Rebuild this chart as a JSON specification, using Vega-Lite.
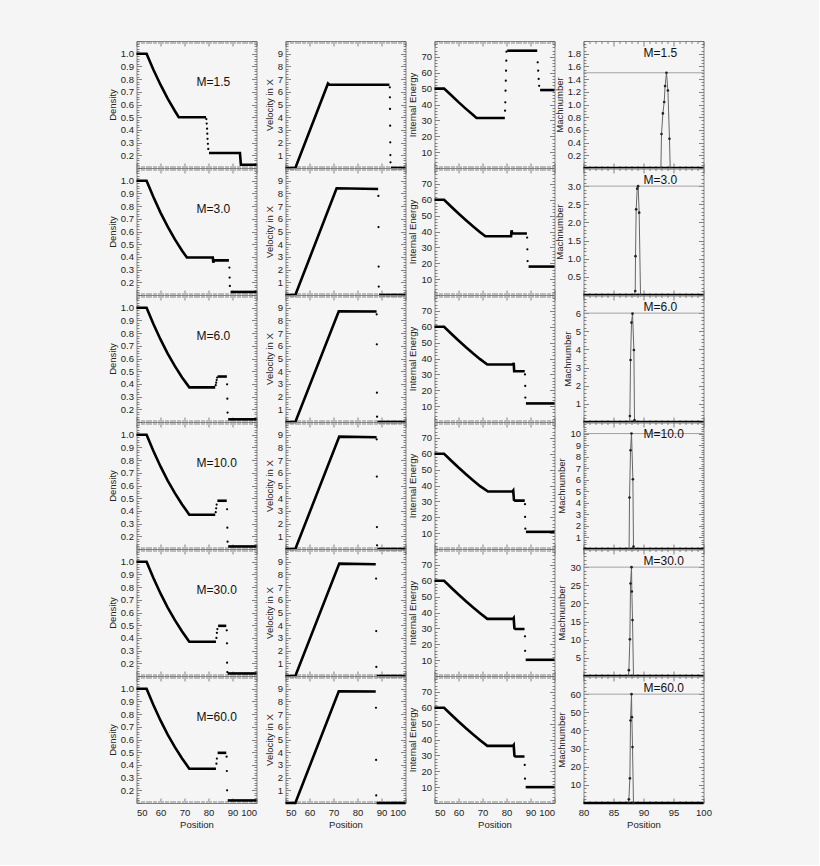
{
  "$schema": "https://vega.github.io/schema/vega-lite/v6.json",
  "background": "#f5f5f5",
  "padding": {"left": 106.5, "top": 35, "right": 106, "bottom": 36},
  "columns": 4,
  "spacing": {"row": 0, "column": 29},
  "bounds": "flush",
  "config": {
    "view": {"stroke": "#888", "strokeWidth": 1},
    "axis": {"grid": false, "domain": false, "labelOverlap": false, "labelFont": "Liberation Sans", "labelFontSize": 9.5, "labelColor": "#222",
      "titleFont": "Liberation Sans", "titleFontSize": 9.5, "titleFontWeight": "normal", "titleColor": "#222",
      "tickColor": "#666", "tickWidth": 0.8, "labelPadding": 8, "titlePadding": 3}
  },
  "datasets": {
    "d1": [
      {"k":"L","g":0,"x":50,"y":1},{"k":"L","g":0,"x":54.2,"y":1},{"k":"L","g":0,"x":57,"y":0.876},{"k":"L","g":0,"x":60,"y":0.756},{"k":"L","g":0,"x":63,"y":0.647},{"k":"L","g":0,"x":66,"y":0.549},{"k":"L","g":0,"x":67.6,"y":0.5},{"k":"L","g":0,"x":79,"y":0.5},
      {"k":"D","x":79.1,"y":0.485},{"k":"D","x":79.25,"y":0.45},{"k":"D","x":79.4,"y":0.41},{"k":"D","x":79.5,"y":0.37},{"k":"D","x":79.6,"y":0.33},{"k":"D","x":79.75,"y":0.29},{"k":"D","x":79.9,"y":0.25},
      {"k":"L","g":1,"x":80.2,"y":0.218},{"k":"L","g":1,"x":93.1,"y":0.218},{"k":"L","g":1,"x":93.5,"y":0.126},{"k":"L","g":1,"x":100,"y":0.126},
      {"k":"N","t":"M=1.5"}
    ],
    "v1": [
      {"k":"L","g":0,"x":50,"y":0},{"k":"L","g":0,"x":54.1,"y":0},{"k":"L","g":0,"x":67.7,"y":6.65},{"k":"L","g":0,"x":68.3,"y":6.55},{"k":"L","g":0,"x":93.3,"y":6.55},
      {"k":"D","x":93.45,"y":6.35},{"k":"D","x":93.5,"y":5.57},{"k":"D","x":93.55,"y":4.65},{"k":"D","x":93.6,"y":3.33},{"k":"D","x":93.65,"y":2.02},{"k":"D","x":93.7,"y":1.02},{"k":"D","x":93.75,"y":0.45},
      {"k":"L","g":1,"x":93.9,"y":0},{"k":"L","g":1,"x":100,"y":0}
    ],
    "e1": [
      {"k":"L","g":0,"x":50,"y":50},{"k":"L","g":0,"x":54,"y":50},{"k":"L","g":0,"x":57,"y":45.8},{"k":"L","g":0,"x":60,"y":41.5},{"k":"L","g":0,"x":63,"y":37.4},{"k":"L","g":0,"x":66,"y":33.5},{"k":"L","g":0,"x":67.5,"y":31.5},{"k":"L","g":0,"x":79.3,"y":31.5},
      {"k":"D","x":79.4,"y":36.1},{"k":"D","x":79.5,"y":41.4},{"k":"D","x":79.6,"y":48.7},{"k":"D","x":79.7,"y":55},{"k":"D","x":79.8,"y":61.3},{"k":"D","x":79.9,"y":67.6},{"k":"D","x":80,"y":73.3},
      {"k":"L","g":1,"x":80.3,"y":73.9},{"k":"L","g":1,"x":92.8,"y":73.9},
      {"k":"D","x":93,"y":66.6},{"k":"D","x":93.2,"y":61.3},{"k":"D","x":93.4,"y":56.1},{"k":"D","x":93.6,"y":51.8},
      {"k":"L","g":2,"x":94,"y":49.1},{"k":"L","g":2,"x":100,"y":49.1}
    ],
    "m1": [
      {"k":"N","t":"M=1.5","m":1.5},
      {"k":"L","g":0,"x":80,"y":0},{"k":"L","g":0,"x":100,"y":0},
      {"k":"T","x":92.9,"y":0},{"k":"T","x":93,"y":0.535},{"k":"T","x":93.23,"y":0.86},{"k":"T","x":93.45,"y":1.04},{"k":"T","x":93.6,"y":1.29},{"k":"T","x":93.83,"y":1.5},{"k":"T","x":94.07,"y":1.22},{"k":"T","x":94.33,"y":0.46},{"k":"T","x":94.45,"y":0}
    ],
    "d2": [
      {"k":"L","g":0,"x":50,"y":1},{"k":"L","g":0,"x":54.2,"y":1},{"k":"L","g":0,"x":57,"y":0.873},{"k":"L","g":0,"x":60,"y":0.749},{"k":"L","g":0,"x":63,"y":0.638},{"k":"L","g":0,"x":66,"y":0.538},{"k":"L","g":0,"x":69,"y":0.449},{"k":"L","g":0,"x":71,"y":0.395},{"k":"L","g":0,"x":81.8,"y":0.395},{"k":"L","g":0,"x":82,"y":0.355},{"k":"L","g":0,"x":82.4,"y":0.373},{"k":"L","g":0,"x":88.5,"y":0.373},
      {"k":"D","x":88.7,"y":0.316},{"k":"D","x":88.8,"y":0.237},{"k":"D","x":88.9,"y":0.171},
      {"k":"L","g":1,"x":89.2,"y":0.124},{"k":"L","g":1,"x":100,"y":0.124},
      {"k":"N","t":"M=3.0"}
    ],
    "v2": [
      {"k":"L","g":0,"x":50,"y":0},{"k":"L","g":0,"x":54.1,"y":0},{"k":"L","g":0,"x":71.3,"y":8.4},{"k":"L","g":0,"x":88.6,"y":8.35},
      {"k":"D","x":88.7,"y":7.8},{"k":"D","x":88.75,"y":5.35},{"k":"D","x":88.8,"y":2.24},{"k":"D","x":88.85,"y":0.66},
      {"k":"L","g":1,"x":89,"y":0},{"k":"L","g":1,"x":100,"y":0}
    ],
    "e2": [
      {"k":"L","g":0,"x":50,"y":60},{"k":"L","g":0,"x":54,"y":60},{"k":"L","g":0,"x":57,"y":55.6},{"k":"L","g":0,"x":60,"y":51.3},{"k":"L","g":0,"x":63,"y":47.3},{"k":"L","g":0,"x":66,"y":43.3},{"k":"L","g":0,"x":69,"y":39.6},{"k":"L","g":0,"x":71.2,"y":37},{"k":"L","g":0,"x":81.9,"y":37},{"k":"L","g":0,"x":82.1,"y":40.8},{"k":"L","g":0,"x":82.4,"y":38.7},{"k":"L","g":0,"x":88.5,"y":38.7},
      {"k":"D","x":88.6,"y":36.2},{"k":"D","x":88.7,"y":28.8},{"k":"D","x":88.8,"y":21.4},
      {"k":"L","g":1,"x":89.2,"y":17.9},{"k":"L","g":1,"x":100,"y":17.9}
    ],
    "m2": [
      {"k":"N","t":"M=3.0","m":3},
      {"k":"L","g":0,"x":80,"y":0},{"k":"L","g":0,"x":100,"y":0},
      {"k":"T","x":88.5,"y":0},{"k":"T","x":88.62,"y":0.11},{"k":"T","x":88.67,"y":1.07},{"k":"T","x":88.78,"y":2.36},{"k":"T","x":88.95,"y":2.93},{"k":"T","x":89.1,"y":3},{"k":"T","x":89.28,"y":2.27},{"k":"T","x":89.5,"y":0}
    ],
    "d3": [
      {"k":"L","g":0,"x":50,"y":1},{"k":"L","g":0,"x":54.2,"y":1},{"k":"L","g":0,"x":57,"y":0.873},{"k":"L","g":0,"x":60,"y":0.75},{"k":"L","g":0,"x":63,"y":0.639},{"k":"L","g":0,"x":66,"y":0.54},{"k":"L","g":0,"x":69,"y":0.451},{"k":"L","g":0,"x":72,"y":0.373},{"k":"L","g":0,"x":82.8,"y":0.373},
      {"k":"D","x":83,"y":0.39},{"k":"D","x":83.2,"y":0.41},{"k":"D","x":83.4,"y":0.43},{"k":"D","x":83.6,"y":0.45},
      {"k":"L","g":1,"x":83.8,"y":0.458},{"k":"L","g":1,"x":87.65,"y":0.458},
      {"k":"D","x":87.75,"y":0.397},{"k":"D","x":87.85,"y":0.284},{"k":"D","x":87.95,"y":0.174},
      {"k":"L","g":2,"x":88.2,"y":0.121},{"k":"L","g":2,"x":100,"y":0.121},
      {"k":"N","t":"M=6.0"}
    ],
    "v3": [
      {"k":"L","g":0,"x":50,"y":0},{"k":"L","g":0,"x":54.1,"y":0},{"k":"L","g":0,"x":72.2,"y":8.72},{"k":"L","g":0,"x":87.95,"y":8.7},
      {"k":"D","x":88,"y":8.48},{"k":"D","x":88.05,"y":6.12},{"k":"D","x":88.1,"y":2.31},{"k":"D","x":88.15,"y":0.42},
      {"k":"L","g":1,"x":88.3,"y":0},{"k":"L","g":1,"x":100,"y":0}
    ],
    "e3": [
      {"k":"L","g":0,"x":50,"y":60},{"k":"L","g":0,"x":54,"y":60},{"k":"L","g":0,"x":57,"y":55.6},{"k":"L","g":0,"x":60,"y":51.3},{"k":"L","g":0,"x":63,"y":47.2},{"k":"L","g":0,"x":66,"y":43.3},{"k":"L","g":0,"x":69,"y":39.6},{"k":"L","g":0,"x":72,"y":36.2},{"k":"L","g":0,"x":82.75,"y":36.2},{"k":"L","g":0,"x":83,"y":37.2},{"k":"L","g":0,"x":83.2,"y":32},{"k":"L","g":0,"x":87.6,"y":32},
      {"k":"D","x":87.7,"y":30},{"k":"D","x":87.8,"y":22.7},{"k":"D","x":87.85,"y":15.4},
      {"k":"L","g":1,"x":88.1,"y":11.7},{"k":"L","g":1,"x":100,"y":11.7}
    ],
    "m3": [
      {"k":"N","t":"M=6.0","m":6},
      {"k":"L","g":0,"x":80,"y":0},{"k":"L","g":0,"x":100,"y":0},
      {"k":"T","x":87.7,"y":0},{"k":"T","x":87.73,"y":0.33},{"k":"T","x":87.84,"y":3.42},{"k":"T","x":88,"y":5.48},{"k":"T","x":88.17,"y":5.97},{"k":"T","x":88.4,"y":3.97},{"k":"T","x":88.5,"y":0.1},{"k":"T","x":88.55,"y":0}
    ],
    "d4": [
      {"k":"L","g":0,"x":50,"y":1},{"k":"L","g":0,"x":54.2,"y":1},{"k":"L","g":0,"x":57,"y":0.873},{"k":"L","g":0,"x":60,"y":0.75},{"k":"L","g":0,"x":63,"y":0.639},{"k":"L","g":0,"x":66,"y":0.54},{"k":"L","g":0,"x":69,"y":0.451},{"k":"L","g":0,"x":72,"y":0.37},{"k":"L","g":0,"x":82.8,"y":0.37},
      {"k":"D","x":83,"y":0.39},{"k":"D","x":83.2,"y":0.42},{"k":"D","x":83.4,"y":0.45},
      {"k":"L","g":1,"x":83.7,"y":0.48},{"k":"L","g":1,"x":87.6,"y":0.48},
      {"k":"D","x":87.75,"y":0.413},{"k":"D","x":87.85,"y":0.268},{"k":"D","x":87.95,"y":0.158},
      {"k":"L","g":2,"x":88.2,"y":0.12},{"k":"L","g":2,"x":100,"y":0.12},
      {"k":"N","t":"M=10.0"}
    ],
    "v4": [
      {"k":"L","g":0,"x":50,"y":0},{"k":"L","g":0,"x":54.1,"y":0},{"k":"L","g":0,"x":72.4,"y":8.85},{"k":"L","g":0,"x":87.95,"y":8.8},
      {"k":"D","x":88,"y":8.64},{"k":"D","x":88.05,"y":5.7},{"k":"D","x":88.1,"y":1.73},{"k":"D","x":88.15,"y":0.29},
      {"k":"L","g":1,"x":88.3,"y":0},{"k":"L","g":1,"x":100,"y":0}
    ],
    "e4": [
      {"k":"L","g":0,"x":50,"y":60},{"k":"L","g":0,"x":54,"y":60},{"k":"L","g":0,"x":57,"y":55.6},{"k":"L","g":0,"x":60,"y":51.3},{"k":"L","g":0,"x":63,"y":47.2},{"k":"L","g":0,"x":66,"y":43.3},{"k":"L","g":0,"x":69,"y":39.6},{"k":"L","g":0,"x":72.3,"y":36.2},{"k":"L","g":0,"x":82.5,"y":36.2},{"k":"L","g":0,"x":82.8,"y":36.8},{"k":"L","g":0,"x":83.1,"y":31},{"k":"L","g":0,"x":83.6,"y":30.5},{"k":"L","g":0,"x":87.6,"y":30.5},
      {"k":"D","x":87.7,"y":28.2},{"k":"D","x":87.75,"y":20.2},{"k":"D","x":87.85,"y":12.8},
      {"k":"L","g":1,"x":88.1,"y":10.8},{"k":"L","g":1,"x":100,"y":10.8}
    ],
    "m4": [
      {"k":"N","t":"M=10.0","m":10},
      {"k":"L","g":0,"x":80,"y":0},{"k":"L","g":0,"x":100,"y":0},
      {"k":"T","x":87.6,"y":0},{"k":"T","x":87.67,"y":4.45},{"k":"T","x":87.84,"y":8.55},{"k":"T","x":88,"y":10},{"k":"T","x":88.23,"y":6.04},{"k":"T","x":88.33,"y":0.2},{"k":"T","x":88.4,"y":0}
    ],
    "d5": [
      {"k":"L","g":0,"x":50,"y":1},{"k":"L","g":0,"x":54.2,"y":1},{"k":"L","g":0,"x":57,"y":0.873},{"k":"L","g":0,"x":60,"y":0.75},{"k":"L","g":0,"x":63,"y":0.639},{"k":"L","g":0,"x":66,"y":0.54},{"k":"L","g":0,"x":69,"y":0.451},{"k":"L","g":0,"x":72,"y":0.37},{"k":"L","g":0,"x":83.1,"y":0.37},
      {"k":"D","x":83.3,"y":0.4},{"k":"D","x":83.5,"y":0.44},{"k":"D","x":83.7,"y":0.47},
      {"k":"L","g":1,"x":84,"y":0.495},{"k":"L","g":1,"x":87.4,"y":0.495},
      {"k":"D","x":87.6,"y":0.46},{"k":"D","x":87.7,"y":0.357},{"k":"D","x":87.75,"y":0.205},{"k":"D","x":87.85,"y":0.131},
      {"k":"L","g":2,"x":88,"y":0.12},{"k":"L","g":2,"x":100,"y":0.12},
      {"k":"N","t":"M=30.0"}
    ],
    "v5": [
      {"k":"L","g":0,"x":50,"y":0},{"k":"L","g":0,"x":54.1,"y":0},{"k":"L","g":0,"x":72.4,"y":8.85},{"k":"L","g":0,"x":87.6,"y":8.8},
      {"k":"D","x":87.75,"y":7.67},{"k":"D","x":87.8,"y":3.54},{"k":"D","x":87.85,"y":0.71},
      {"k":"L","g":1,"x":88,"y":0},{"k":"L","g":1,"x":100,"y":0}
    ],
    "e5": [
      {"k":"L","g":0,"x":50,"y":60},{"k":"L","g":0,"x":54,"y":60},{"k":"L","g":0,"x":57,"y":55.6},{"k":"L","g":0,"x":60,"y":51.3},{"k":"L","g":0,"x":63,"y":47.2},{"k":"L","g":0,"x":66,"y":43.3},{"k":"L","g":0,"x":69,"y":39.6},{"k":"L","g":0,"x":72,"y":36},{"k":"L","g":0,"x":82.75,"y":36},{"k":"L","g":0,"x":83,"y":36.5},{"k":"L","g":0,"x":83.3,"y":30},{"k":"L","g":0,"x":83.7,"y":29.6},{"k":"L","g":0,"x":87.5,"y":29.6},
      {"k":"D","x":87.7,"y":25},{"k":"D","x":87.75,"y":15.9},
      {"k":"L","g":1,"x":88,"y":10.2},{"k":"L","g":1,"x":100,"y":10.2}
    ],
    "m5": [
      {"k":"N","t":"M=30.0","m":30},
      {"k":"L","g":0,"x":80,"y":0},{"k":"L","g":0,"x":100,"y":0},
      {"k":"T","x":87.5,"y":0},{"k":"T","x":87.56,"y":1.6},{"k":"T","x":87.73,"y":10.1},{"k":"T","x":87.84,"y":25.5},{"k":"T","x":88,"y":30},{"k":"T","x":88.06,"y":23.3},{"k":"T","x":88.17,"y":15.4},{"k":"T","x":88.33,"y":0}
    ],
    "d6": [
      {"k":"L","g":0,"x":50,"y":1},{"k":"L","g":0,"x":54.2,"y":1},{"k":"L","g":0,"x":57,"y":0.873},{"k":"L","g":0,"x":60,"y":0.75},{"k":"L","g":0,"x":63,"y":0.639},{"k":"L","g":0,"x":66,"y":0.54},{"k":"L","g":0,"x":69,"y":0.451},{"k":"L","g":0,"x":72,"y":0.37},{"k":"L","g":0,"x":83.1,"y":0.37},
      {"k":"D","x":83.3,"y":0.41},{"k":"D","x":83.5,"y":0.45},
      {"k":"L","g":1,"x":83.8,"y":0.495},{"k":"L","g":1,"x":87.4,"y":0.495},
      {"k":"D","x":87.55,"y":0.465},{"k":"D","x":87.65,"y":0.352},{"k":"D","x":87.75,"y":0.2},
      {"k":"L","g":2,"x":88,"y":0.12},{"k":"L","g":2,"x":100,"y":0.12},
      {"k":"N","t":"M=60.0"}
    ],
    "v6": [
      {"k":"L","g":0,"x":50,"y":0},{"k":"L","g":0,"x":54.1,"y":0},{"k":"L","g":0,"x":72.2,"y":8.8},{"k":"L","g":0,"x":87.6,"y":8.78},
      {"k":"D","x":87.7,"y":7.5},{"k":"D","x":87.75,"y":3.39},{"k":"D","x":87.8,"y":0.6},
      {"k":"L","g":1,"x":88,"y":0},{"k":"L","g":1,"x":100,"y":0}
    ],
    "e6": [
      {"k":"L","g":0,"x":50,"y":60},{"k":"L","g":0,"x":54,"y":60},{"k":"L","g":0,"x":57,"y":55.6},{"k":"L","g":0,"x":60,"y":51.3},{"k":"L","g":0,"x":63,"y":47.2},{"k":"L","g":0,"x":66,"y":43.3},{"k":"L","g":0,"x":69,"y":39.6},{"k":"L","g":0,"x":72,"y":36},{"k":"L","g":0,"x":82.75,"y":36},{"k":"L","g":0,"x":83,"y":36.5},{"k":"L","g":0,"x":83.3,"y":29.8},{"k":"L","g":0,"x":83.7,"y":29.3},{"k":"L","g":0,"x":87.5,"y":29.3},
      {"k":"D","x":87.6,"y":24},{"k":"D","x":87.7,"y":15.3},
      {"k":"L","g":1,"x":88,"y":10},{"k":"L","g":1,"x":100,"y":10}
    ],
    "m6": [
      {"k":"N","t":"M=60.0","m":60},
      {"k":"L","g":0,"x":80,"y":0},{"k":"L","g":0,"x":100,"y":0},
      {"k":"T","x":87.5,"y":0},{"k":"T","x":87.56,"y":2},{"k":"T","x":87.73,"y":13.6},{"k":"T","x":87.84,"y":45.5},{"k":"T","x":88,"y":60},{"k":"T","x":88.06,"y":47.3},{"k":"T","x":88.17,"y":30.8},{"k":"T","x":88.33,"y":0}
    ]
  },
  "concat": [
    {"data": {"name": "d1"}, "width": 120, "height": 127, "resolve": {"axis": {"x": "independent", "y": "independent"}}, "layer": [
      {"transform": [{"filter": "datum.k == 'L'"}], "mark": {"type": "line", "color": "#000", "strokeWidth": 2.6}, "encoding": {
        "x": {"field": "x", "type": "quantitative", "scale": {"domain": [50, 100], "nice": false, "zero": false}, "axis": {"orient": "bottom", "tickCount": 50, "tickSize": {"condition": {"test": "datum.value % 10 == 0", "value": -5}, "value": -2.5}, "labels": false, "title": null}},
        "y": {"field": "y", "type": "quantitative", "scale": {"domain": [0.1, 1.1], "nice": false, "zero": false}, "axis": {"orient": "left", "tickCount": 50, "tickSize": {"condition": {"test": "abs(datum.value*10-round(datum.value*10)) < 0.001", "value": -5}, "value": -2.5}, "labelExpr": "abs(datum.value*10-round(datum.value*10)) < 0.001 && datum.value > 0.15 && datum.value < 1.05 ? format(datum.value, '.1f') : ''", "title": "Density"}},
        "detail": {"field": "g", "type": "nominal"}}},
      {"transform": [{"filter": "datum.k == 'D'"}], "mark": {"type": "circle", "color": "#000", "size": 5, "opacity": 1}, "encoding": {
        "x": {"field": "x", "type": "quantitative", "axis": {"orient": "top", "tickCount": 50, "tickSize": {"condition": {"test": "datum.value % 10 == 0", "value": -5}, "value": -2.5}, "labels": false, "title": null}},
        "y": {"field": "y", "type": "quantitative", "axis": {"orient": "right", "tickCount": 50, "tickSize": {"condition": {"test": "abs(datum.value*10-round(datum.value*10)) < 0.001", "value": -5}, "value": -2.5}, "labels": false, "title": null}}}},
      {"transform": [{"filter": "datum.k == 'N'"}], "mark": {"type": "text", "align": "left", "baseline": "middle", "font": "Liberation Sans", "fontSize": 12, "color": "#111"}, "encoding": {
        "x": {"datum": 75, "type": "quantitative", "axis": null}, "y": {"datum": 0.78, "type": "quantitative", "axis": null}, "text": {"field": "t"}}}
    ]},
    {"data": {"name": "v1"}, "width": 120, "height": 127, "resolve": {"axis": {"x": "independent", "y": "independent"}}, "layer": [
      {"transform": [{"filter": "datum.k == 'L'"}], "mark": {"type": "line", "color": "#000", "strokeWidth": 2.6}, "encoding": {
        "x": {"field": "x", "type": "quantitative", "scale": {"domain": [50, 100], "nice": false, "zero": false}, "axis": {"orient": "bottom", "tickCount": 50, "tickSize": {"condition": {"test": "datum.value % 10 == 0", "value": -5}, "value": -2.5}, "labels": false, "title": null}},
        "y": {"field": "y", "type": "quantitative", "scale": {"domain": [0, 10], "nice": false, "zero": false}, "axis": {"orient": "left", "tickCount": 50, "tickSize": {"condition": {"test": "abs(datum.value-round(datum.value)) < 0.001", "value": -5}, "value": -2.5}, "labelExpr": "abs(datum.value-round(datum.value)) < 0.001 && datum.value > 0.5 && datum.value < 9.5 ? format(datum.value, '.0f') : ''", "title": "Velocity in X"}},
        "detail": {"field": "g", "type": "nominal"}}},
      {"transform": [{"filter": "datum.k == 'D'"}], "mark": {"type": "circle", "color": "#000", "size": 5, "opacity": 1}, "encoding": {
        "x": {"field": "x", "type": "quantitative", "axis": {"orient": "top", "tickCount": 50, "tickSize": {"condition": {"test": "datum.value % 10 == 0", "value": -5}, "value": -2.5}, "labels": false, "title": null}},
        "y": {"field": "y", "type": "quantitative", "axis": {"orient": "right", "tickCount": 50, "tickSize": {"condition": {"test": "abs(datum.value-round(datum.value)) < 0.001", "value": -5}, "value": -2.5}, "labels": false, "title": null}}}}
    ]},
    {"data": {"name": "e1"}, "width": 120, "height": 127, "resolve": {"axis": {"x": "independent", "y": "independent"}}, "layer": [
      {"transform": [{"filter": "datum.k == 'L'"}], "mark": {"type": "line", "color": "#000", "strokeWidth": 2.6}, "encoding": {
        "x": {"field": "x", "type": "quantitative", "scale": {"domain": [50, 100], "nice": false, "zero": false}, "axis": {"orient": "bottom", "tickCount": 50, "tickSize": {"condition": {"test": "datum.value % 10 == 0", "value": -5}, "value": -2.5}, "labels": false, "title": null}},
        "y": {"field": "y", "type": "quantitative", "scale": {"domain": [0, 80], "nice": false, "zero": false}, "axis": {"orient": "left", "tickCount": 40, "tickSize": {"condition": {"test": "datum.value % 10 == 0", "value": -5}, "value": -2.5}, "labelExpr": "datum.value % 10 == 0 && datum.value > 5 && datum.value < 75 ? format(datum.value, '.0f') : ''", "title": "Internal Energy"}},
        "detail": {"field": "g", "type": "nominal"}}},
      {"transform": [{"filter": "datum.k == 'D'"}], "mark": {"type": "circle", "color": "#000", "size": 5, "opacity": 1}, "encoding": {
        "x": {"field": "x", "type": "quantitative", "axis": {"orient": "top", "tickCount": 50, "tickSize": {"condition": {"test": "datum.value % 10 == 0", "value": -5}, "value": -2.5}, "labels": false, "title": null}},
        "y": {"field": "y", "type": "quantitative", "axis": {"orient": "right", "tickCount": 40, "tickSize": {"condition": {"test": "datum.value % 10 == 0", "value": -5}, "value": -2.5}, "labels": false, "title": null}}}}
    ]},
    {"data": {"name": "m1"}, "width": 120, "height": 127, "resolve": {"axis": {"x": "independent", "y": "independent"}}, "layer": [
      {"transform": [{"filter": "datum.k == 'N'"}], "mark": {"type": "rule", "color": "#999", "strokeWidth": 0.9}, "encoding": {
        "y": {"field": "m", "type": "quantitative", "scale": {"domain": [0, 2], "nice": false, "zero": false}, "axis": null}}},
      {"transform": [{"filter": "datum.k == 'L'"}], "mark": {"type": "line", "color": "#000", "strokeWidth": 2.6}, "encoding": {
        "x": {"field": "x", "type": "quantitative", "scale": {"domain": [80, 100], "nice": false, "zero": false}, "axis": {"orient": "bottom", "tickCount": 20, "tickSize": {"condition": {"test": "datum.value % 5 == 0", "value": -5}, "value": -2.5}, "labels": false, "title": null}},
        "y": {"field": "y", "type": "quantitative", "scale": {"domain": [0, 2], "nice": false, "zero": false}, "axis": {"orient": "left", "tickCount": 40, "tickSize": {"condition": {"test": "abs(datum.value*5-round(datum.value*5)) < 0.001", "value": -5}, "value": -2.5}, "labelExpr": "abs(datum.value*5-round(datum.value*5)) < 0.001 && datum.value > 0.1 && datum.value < 1.9 ? format(datum.value, '.1f') : ''", "title": "Machnumber"}}}},
      {"transform": [{"filter": "datum.k == 'T'"}], "mark": {"type": "line", "color": "#666", "strokeWidth": 1}, "encoding": {
        "x": {"field": "x", "type": "quantitative", "axis": {"orient": "top", "tickCount": 20, "tickSize": {"condition": {"test": "datum.value % 5 == 0", "value": -5}, "value": -2.5}, "labels": false, "title": null}},
        "y": {"field": "y", "type": "quantitative", "axis": {"orient": "right", "tickCount": 40, "tickSize": {"condition": {"test": "abs(datum.value*5-round(datum.value*5)) < 0.001", "value": -5}, "value": -2.5}, "labels": false, "title": null}}}},
      {"transform": [{"filter": "datum.k == 'T'"}], "mark": {"type": "circle", "color": "#222", "size": 7, "opacity": 1}, "encoding": {
        "x": {"field": "x", "type": "quantitative", "axis": null}, "y": {"field": "y", "type": "quantitative", "axis": null}}},
      {"transform": [{"filter": "datum.k == 'N'"}], "mark": {"type": "text", "align": "left", "baseline": "middle", "font": "Liberation Sans", "fontSize": 12, "color": "#111"}, "encoding": {
        "x": {"datum": 90, "type": "quantitative", "axis": null}, "y": {"datum": 1.81, "type": "quantitative", "axis": null}, "text": {"field": "t"}}}
    ]},

    {"data": {"name": "d2"}, "width": 120, "height": 127, "resolve": {"axis": {"x": "independent", "y": "independent"}}, "layer": [
      {"transform": [{"filter": "datum.k == 'L'"}], "mark": {"type": "line", "color": "#000", "strokeWidth": 2.6}, "encoding": {
        "x": {"field": "x", "type": "quantitative", "scale": {"domain": [50, 100], "nice": false, "zero": false}, "axis": {"orient": "bottom", "tickCount": 50, "tickSize": {"condition": {"test": "datum.value % 10 == 0", "value": -5}, "value": -2.5}, "labels": false, "title": null}},
        "y": {"field": "y", "type": "quantitative", "scale": {"domain": [0.1, 1.1], "nice": false, "zero": false}, "axis": {"orient": "left", "tickCount": 50, "tickSize": {"condition": {"test": "abs(datum.value*10-round(datum.value*10)) < 0.001", "value": -5}, "value": -2.5}, "labelExpr": "abs(datum.value*10-round(datum.value*10)) < 0.001 && datum.value > 0.15 && datum.value < 1.05 ? format(datum.value, '.1f') : ''", "title": "Density"}},
        "detail": {"field": "g", "type": "nominal"}}},
      {"transform": [{"filter": "datum.k == 'D'"}], "mark": {"type": "circle", "color": "#000", "size": 5, "opacity": 1}, "encoding": {
        "x": {"field": "x", "type": "quantitative", "axis": {"orient": "top", "tickCount": 50, "tickSize": {"condition": {"test": "datum.value % 10 == 0", "value": -5}, "value": -2.5}, "labels": false, "title": null}},
        "y": {"field": "y", "type": "quantitative", "axis": {"orient": "right", "tickCount": 50, "tickSize": {"condition": {"test": "abs(datum.value*10-round(datum.value*10)) < 0.001", "value": -5}, "value": -2.5}, "labels": false, "title": null}}}},
      {"transform": [{"filter": "datum.k == 'N'"}], "mark": {"type": "text", "align": "left", "baseline": "middle", "font": "Liberation Sans", "fontSize": 12, "color": "#111"}, "encoding": {
        "x": {"datum": 75, "type": "quantitative", "axis": null}, "y": {"datum": 0.78, "type": "quantitative", "axis": null}, "text": {"field": "t"}}}
    ]},
    {"data": {"name": "v2"}, "width": 120, "height": 127, "resolve": {"axis": {"x": "independent", "y": "independent"}}, "layer": [
      {"transform": [{"filter": "datum.k == 'L'"}], "mark": {"type": "line", "color": "#000", "strokeWidth": 2.6}, "encoding": {
        "x": {"field": "x", "type": "quantitative", "scale": {"domain": [50, 100], "nice": false, "zero": false}, "axis": {"orient": "bottom", "tickCount": 50, "tickSize": {"condition": {"test": "datum.value % 10 == 0", "value": -5}, "value": -2.5}, "labels": false, "title": null}},
        "y": {"field": "y", "type": "quantitative", "scale": {"domain": [0, 10], "nice": false, "zero": false}, "axis": {"orient": "left", "tickCount": 50, "tickSize": {"condition": {"test": "abs(datum.value-round(datum.value)) < 0.001", "value": -5}, "value": -2.5}, "labelExpr": "abs(datum.value-round(datum.value)) < 0.001 && datum.value > 0.5 && datum.value < 9.5 ? format(datum.value, '.0f') : ''", "title": "Velocity in X"}},
        "detail": {"field": "g", "type": "nominal"}}},
      {"transform": [{"filter": "datum.k == 'D'"}], "mark": {"type": "circle", "color": "#000", "size": 5, "opacity": 1}, "encoding": {
        "x": {"field": "x", "type": "quantitative", "axis": {"orient": "top", "tickCount": 50, "tickSize": {"condition": {"test": "datum.value % 10 == 0", "value": -5}, "value": -2.5}, "labels": false, "title": null}},
        "y": {"field": "y", "type": "quantitative", "axis": {"orient": "right", "tickCount": 50, "tickSize": {"condition": {"test": "abs(datum.value-round(datum.value)) < 0.001", "value": -5}, "value": -2.5}, "labels": false, "title": null}}}}
    ]},
    {"data": {"name": "e2"}, "width": 120, "height": 127, "resolve": {"axis": {"x": "independent", "y": "independent"}}, "layer": [
      {"transform": [{"filter": "datum.k == 'L'"}], "mark": {"type": "line", "color": "#000", "strokeWidth": 2.6}, "encoding": {
        "x": {"field": "x", "type": "quantitative", "scale": {"domain": [50, 100], "nice": false, "zero": false}, "axis": {"orient": "bottom", "tickCount": 50, "tickSize": {"condition": {"test": "datum.value % 10 == 0", "value": -5}, "value": -2.5}, "labels": false, "title": null}},
        "y": {"field": "y", "type": "quantitative", "scale": {"domain": [0, 80], "nice": false, "zero": false}, "axis": {"orient": "left", "tickCount": 40, "tickSize": {"condition": {"test": "datum.value % 10 == 0", "value": -5}, "value": -2.5}, "labelExpr": "datum.value % 10 == 0 && datum.value > 5 && datum.value < 75 ? format(datum.value, '.0f') : ''", "title": "Internal Energy"}},
        "detail": {"field": "g", "type": "nominal"}}},
      {"transform": [{"filter": "datum.k == 'D'"}], "mark": {"type": "circle", "color": "#000", "size": 5, "opacity": 1}, "encoding": {
        "x": {"field": "x", "type": "quantitative", "axis": {"orient": "top", "tickCount": 50, "tickSize": {"condition": {"test": "datum.value % 10 == 0", "value": -5}, "value": -2.5}, "labels": false, "title": null}},
        "y": {"field": "y", "type": "quantitative", "axis": {"orient": "right", "tickCount": 40, "tickSize": {"condition": {"test": "datum.value % 10 == 0", "value": -5}, "value": -2.5}, "labels": false, "title": null}}}}
    ]},
    {"data": {"name": "m2"}, "width": 120, "height": 127, "resolve": {"axis": {"x": "independent", "y": "independent"}}, "layer": [
      {"transform": [{"filter": "datum.k == 'N'"}], "mark": {"type": "rule", "color": "#999", "strokeWidth": 0.9}, "encoding": {
        "y": {"field": "m", "type": "quantitative", "scale": {"domain": [0, 3.5], "nice": false, "zero": false}, "axis": null}}},
      {"transform": [{"filter": "datum.k == 'L'"}], "mark": {"type": "line", "color": "#000", "strokeWidth": 2.6}, "encoding": {
        "x": {"field": "x", "type": "quantitative", "scale": {"domain": [80, 100], "nice": false, "zero": false}, "axis": {"orient": "bottom", "tickCount": 20, "tickSize": {"condition": {"test": "datum.value % 5 == 0", "value": -5}, "value": -2.5}, "labels": false, "title": null}},
        "y": {"field": "y", "type": "quantitative", "scale": {"domain": [0, 3.5], "nice": false, "zero": false}, "axis": {"orient": "left", "tickCount": 35, "tickSize": {"condition": {"test": "abs(datum.value*2-round(datum.value*2)) < 0.001", "value": -5}, "value": -2.5}, "labelExpr": "abs(datum.value*2-round(datum.value*2)) < 0.001 && datum.value > 0.25 && datum.value < 3.25 ? format(datum.value, '.1f') : ''", "title": "Machnumber"}}}},
      {"transform": [{"filter": "datum.k == 'T'"}], "mark": {"type": "line", "color": "#666", "strokeWidth": 1}, "encoding": {
        "x": {"field": "x", "type": "quantitative", "axis": {"orient": "top", "tickCount": 20, "tickSize": {"condition": {"test": "datum.value % 5 == 0", "value": -5}, "value": -2.5}, "labels": false, "title": null}},
        "y": {"field": "y", "type": "quantitative", "axis": {"orient": "right", "tickCount": 35, "tickSize": {"condition": {"test": "abs(datum.value*2-round(datum.value*2)) < 0.001", "value": -5}, "value": -2.5}, "labels": false, "title": null}}}},
      {"transform": [{"filter": "datum.k == 'T'"}], "mark": {"type": "circle", "color": "#222", "size": 7, "opacity": 1}, "encoding": {
        "x": {"field": "x", "type": "quantitative", "axis": null}, "y": {"field": "y", "type": "quantitative", "axis": null}}},
      {"transform": [{"filter": "datum.k == 'N'"}], "mark": {"type": "text", "align": "left", "baseline": "middle", "font": "Liberation Sans", "fontSize": 12, "color": "#111"}, "encoding": {
        "x": {"datum": 90, "type": "quantitative", "axis": null}, "y": {"datum": 3.17, "type": "quantitative", "axis": null}, "text": {"field": "t"}}}
    ]},

    {"data": {"name": "d3"}, "width": 120, "height": 127, "resolve": {"axis": {"x": "independent", "y": "independent"}}, "layer": [
      {"transform": [{"filter": "datum.k == 'L'"}], "mark": {"type": "line", "color": "#000", "strokeWidth": 2.6}, "encoding": {
        "x": {"field": "x", "type": "quantitative", "scale": {"domain": [50, 100], "nice": false, "zero": false}, "axis": {"orient": "bottom", "tickCount": 50, "tickSize": {"condition": {"test": "datum.value % 10 == 0", "value": -5}, "value": -2.5}, "labels": false, "title": null}},
        "y": {"field": "y", "type": "quantitative", "scale": {"domain": [0.1, 1.1], "nice": false, "zero": false}, "axis": {"orient": "left", "tickCount": 50, "tickSize": {"condition": {"test": "abs(datum.value*10-round(datum.value*10)) < 0.001", "value": -5}, "value": -2.5}, "labelExpr": "abs(datum.value*10-round(datum.value*10)) < 0.001 && datum.value > 0.15 && datum.value < 1.05 ? format(datum.value, '.1f') : ''", "title": "Density"}},
        "detail": {"field": "g", "type": "nominal"}}},
      {"transform": [{"filter": "datum.k == 'D'"}], "mark": {"type": "circle", "color": "#000", "size": 5, "opacity": 1}, "encoding": {
        "x": {"field": "x", "type": "quantitative", "axis": {"orient": "top", "tickCount": 50, "tickSize": {"condition": {"test": "datum.value % 10 == 0", "value": -5}, "value": -2.5}, "labels": false, "title": null}},
        "y": {"field": "y", "type": "quantitative", "axis": {"orient": "right", "tickCount": 50, "tickSize": {"condition": {"test": "abs(datum.value*10-round(datum.value*10)) < 0.001", "value": -5}, "value": -2.5}, "labels": false, "title": null}}}},
      {"transform": [{"filter": "datum.k == 'N'"}], "mark": {"type": "text", "align": "left", "baseline": "middle", "font": "Liberation Sans", "fontSize": 12, "color": "#111"}, "encoding": {
        "x": {"datum": 75, "type": "quantitative", "axis": null}, "y": {"datum": 0.78, "type": "quantitative", "axis": null}, "text": {"field": "t"}}}
    ]},
    {"data": {"name": "v3"}, "width": 120, "height": 127, "resolve": {"axis": {"x": "independent", "y": "independent"}}, "layer": [
      {"transform": [{"filter": "datum.k == 'L'"}], "mark": {"type": "line", "color": "#000", "strokeWidth": 2.6}, "encoding": {
        "x": {"field": "x", "type": "quantitative", "scale": {"domain": [50, 100], "nice": false, "zero": false}, "axis": {"orient": "bottom", "tickCount": 50, "tickSize": {"condition": {"test": "datum.value % 10 == 0", "value": -5}, "value": -2.5}, "labels": false, "title": null}},
        "y": {"field": "y", "type": "quantitative", "scale": {"domain": [0, 10], "nice": false, "zero": false}, "axis": {"orient": "left", "tickCount": 50, "tickSize": {"condition": {"test": "abs(datum.value-round(datum.value)) < 0.001", "value": -5}, "value": -2.5}, "labelExpr": "abs(datum.value-round(datum.value)) < 0.001 && datum.value > 0.5 && datum.value < 9.5 ? format(datum.value, '.0f') : ''", "title": "Velocity in X"}},
        "detail": {"field": "g", "type": "nominal"}}},
      {"transform": [{"filter": "datum.k == 'D'"}], "mark": {"type": "circle", "color": "#000", "size": 5, "opacity": 1}, "encoding": {
        "x": {"field": "x", "type": "quantitative", "axis": {"orient": "top", "tickCount": 50, "tickSize": {"condition": {"test": "datum.value % 10 == 0", "value": -5}, "value": -2.5}, "labels": false, "title": null}},
        "y": {"field": "y", "type": "quantitative", "axis": {"orient": "right", "tickCount": 50, "tickSize": {"condition": {"test": "abs(datum.value-round(datum.value)) < 0.001", "value": -5}, "value": -2.5}, "labels": false, "title": null}}}}
    ]},
    {"data": {"name": "e3"}, "width": 120, "height": 127, "resolve": {"axis": {"x": "independent", "y": "independent"}}, "layer": [
      {"transform": [{"filter": "datum.k == 'L'"}], "mark": {"type": "line", "color": "#000", "strokeWidth": 2.6}, "encoding": {
        "x": {"field": "x", "type": "quantitative", "scale": {"domain": [50, 100], "nice": false, "zero": false}, "axis": {"orient": "bottom", "tickCount": 50, "tickSize": {"condition": {"test": "datum.value % 10 == 0", "value": -5}, "value": -2.5}, "labels": false, "title": null}},
        "y": {"field": "y", "type": "quantitative", "scale": {"domain": [0, 80], "nice": false, "zero": false}, "axis": {"orient": "left", "tickCount": 40, "tickSize": {"condition": {"test": "datum.value % 10 == 0", "value": -5}, "value": -2.5}, "labelExpr": "datum.value % 10 == 0 && datum.value > 5 && datum.value < 75 ? format(datum.value, '.0f') : ''", "title": "Internal Energy"}},
        "detail": {"field": "g", "type": "nominal"}}},
      {"transform": [{"filter": "datum.k == 'D'"}], "mark": {"type": "circle", "color": "#000", "size": 5, "opacity": 1}, "encoding": {
        "x": {"field": "x", "type": "quantitative", "axis": {"orient": "top", "tickCount": 50, "tickSize": {"condition": {"test": "datum.value % 10 == 0", "value": -5}, "value": -2.5}, "labels": false, "title": null}},
        "y": {"field": "y", "type": "quantitative", "axis": {"orient": "right", "tickCount": 40, "tickSize": {"condition": {"test": "datum.value % 10 == 0", "value": -5}, "value": -2.5}, "labels": false, "title": null}}}}
    ]},
    {"data": {"name": "m3"}, "width": 120, "height": 127, "resolve": {"axis": {"x": "independent", "y": "independent"}}, "layer": [
      {"transform": [{"filter": "datum.k == 'N'"}], "mark": {"type": "rule", "color": "#999", "strokeWidth": 0.9}, "encoding": {
        "y": {"field": "m", "type": "quantitative", "scale": {"domain": [0, 7], "nice": false, "zero": false}, "axis": null}}},
      {"transform": [{"filter": "datum.k == 'L'"}], "mark": {"type": "line", "color": "#000", "strokeWidth": 2.6}, "encoding": {
        "x": {"field": "x", "type": "quantitative", "scale": {"domain": [80, 100], "nice": false, "zero": false}, "axis": {"orient": "bottom", "tickCount": 20, "tickSize": {"condition": {"test": "datum.value % 5 == 0", "value": -5}, "value": -2.5}, "labels": false, "title": null}},
        "y": {"field": "y", "type": "quantitative", "scale": {"domain": [0, 7], "nice": false, "zero": false}, "axis": {"orient": "left", "tickCount": 35, "tickSize": {"condition": {"test": "abs(datum.value-round(datum.value)) < 0.001", "value": -5}, "value": -2.5}, "labelExpr": "abs(datum.value-round(datum.value)) < 0.001 && datum.value > 0.5 && datum.value < 6.5 ? format(datum.value, '.0f') : ''", "title": "Machnumber"}}}},
      {"transform": [{"filter": "datum.k == 'T'"}], "mark": {"type": "line", "color": "#666", "strokeWidth": 1}, "encoding": {
        "x": {"field": "x", "type": "quantitative", "axis": {"orient": "top", "tickCount": 20, "tickSize": {"condition": {"test": "datum.value % 5 == 0", "value": -5}, "value": -2.5}, "labels": false, "title": null}},
        "y": {"field": "y", "type": "quantitative", "axis": {"orient": "right", "tickCount": 35, "tickSize": {"condition": {"test": "abs(datum.value-round(datum.value)) < 0.001", "value": -5}, "value": -2.5}, "labels": false, "title": null}}}},
      {"transform": [{"filter": "datum.k == 'T'"}], "mark": {"type": "circle", "color": "#222", "size": 7, "opacity": 1}, "encoding": {
        "x": {"field": "x", "type": "quantitative", "axis": null}, "y": {"field": "y", "type": "quantitative", "axis": null}}},
      {"transform": [{"filter": "datum.k == 'N'"}], "mark": {"type": "text", "align": "left", "baseline": "middle", "font": "Liberation Sans", "fontSize": 12, "color": "#111"}, "encoding": {
        "x": {"datum": 90, "type": "quantitative", "axis": null}, "y": {"datum": 6.34, "type": "quantitative", "axis": null}, "text": {"field": "t"}}}
    ]},

    {"data": {"name": "d4"}, "width": 120, "height": 127, "resolve": {"axis": {"x": "independent", "y": "independent"}}, "layer": [
      {"transform": [{"filter": "datum.k == 'L'"}], "mark": {"type": "line", "color": "#000", "strokeWidth": 2.6}, "encoding": {
        "x": {"field": "x", "type": "quantitative", "scale": {"domain": [50, 100], "nice": false, "zero": false}, "axis": {"orient": "bottom", "tickCount": 50, "tickSize": {"condition": {"test": "datum.value % 10 == 0", "value": -5}, "value": -2.5}, "labels": false, "title": null}},
        "y": {"field": "y", "type": "quantitative", "scale": {"domain": [0.1, 1.1], "nice": false, "zero": false}, "axis": {"orient": "left", "tickCount": 50, "tickSize": {"condition": {"test": "abs(datum.value*10-round(datum.value*10)) < 0.001", "value": -5}, "value": -2.5}, "labelExpr": "abs(datum.value*10-round(datum.value*10)) < 0.001 && datum.value > 0.15 && datum.value < 1.05 ? format(datum.value, '.1f') : ''", "title": "Density"}},
        "detail": {"field": "g", "type": "nominal"}}},
      {"transform": [{"filter": "datum.k == 'D'"}], "mark": {"type": "circle", "color": "#000", "size": 5, "opacity": 1}, "encoding": {
        "x": {"field": "x", "type": "quantitative", "axis": {"orient": "top", "tickCount": 50, "tickSize": {"condition": {"test": "datum.value % 10 == 0", "value": -5}, "value": -2.5}, "labels": false, "title": null}},
        "y": {"field": "y", "type": "quantitative", "axis": {"orient": "right", "tickCount": 50, "tickSize": {"condition": {"test": "abs(datum.value*10-round(datum.value*10)) < 0.001", "value": -5}, "value": -2.5}, "labels": false, "title": null}}}},
      {"transform": [{"filter": "datum.k == 'N'"}], "mark": {"type": "text", "align": "left", "baseline": "middle", "font": "Liberation Sans", "fontSize": 12, "color": "#111"}, "encoding": {
        "x": {"datum": 75, "type": "quantitative", "axis": null}, "y": {"datum": 0.78, "type": "quantitative", "axis": null}, "text": {"field": "t"}}}
    ]},
    {"data": {"name": "v4"}, "width": 120, "height": 127, "resolve": {"axis": {"x": "independent", "y": "independent"}}, "layer": [
      {"transform": [{"filter": "datum.k == 'L'"}], "mark": {"type": "line", "color": "#000", "strokeWidth": 2.6}, "encoding": {
        "x": {"field": "x", "type": "quantitative", "scale": {"domain": [50, 100], "nice": false, "zero": false}, "axis": {"orient": "bottom", "tickCount": 50, "tickSize": {"condition": {"test": "datum.value % 10 == 0", "value": -5}, "value": -2.5}, "labels": false, "title": null}},
        "y": {"field": "y", "type": "quantitative", "scale": {"domain": [0, 10], "nice": false, "zero": false}, "axis": {"orient": "left", "tickCount": 50, "tickSize": {"condition": {"test": "abs(datum.value-round(datum.value)) < 0.001", "value": -5}, "value": -2.5}, "labelExpr": "abs(datum.value-round(datum.value)) < 0.001 && datum.value > 0.5 && datum.value < 9.5 ? format(datum.value, '.0f') : ''", "title": "Velocity in X"}},
        "detail": {"field": "g", "type": "nominal"}}},
      {"transform": [{"filter": "datum.k == 'D'"}], "mark": {"type": "circle", "color": "#000", "size": 5, "opacity": 1}, "encoding": {
        "x": {"field": "x", "type": "quantitative", "axis": {"orient": "top", "tickCount": 50, "tickSize": {"condition": {"test": "datum.value % 10 == 0", "value": -5}, "value": -2.5}, "labels": false, "title": null}},
        "y": {"field": "y", "type": "quantitative", "axis": {"orient": "right", "tickCount": 50, "tickSize": {"condition": {"test": "abs(datum.value-round(datum.value)) < 0.001", "value": -5}, "value": -2.5}, "labels": false, "title": null}}}}
    ]},
    {"data": {"name": "e4"}, "width": 120, "height": 127, "resolve": {"axis": {"x": "independent", "y": "independent"}}, "layer": [
      {"transform": [{"filter": "datum.k == 'L'"}], "mark": {"type": "line", "color": "#000", "strokeWidth": 2.6}, "encoding": {
        "x": {"field": "x", "type": "quantitative", "scale": {"domain": [50, 100], "nice": false, "zero": false}, "axis": {"orient": "bottom", "tickCount": 50, "tickSize": {"condition": {"test": "datum.value % 10 == 0", "value": -5}, "value": -2.5}, "labels": false, "title": null}},
        "y": {"field": "y", "type": "quantitative", "scale": {"domain": [0, 80], "nice": false, "zero": false}, "axis": {"orient": "left", "tickCount": 40, "tickSize": {"condition": {"test": "datum.value % 10 == 0", "value": -5}, "value": -2.5}, "labelExpr": "datum.value % 10 == 0 && datum.value > 5 && datum.value < 75 ? format(datum.value, '.0f') : ''", "title": "Internal Energy"}},
        "detail": {"field": "g", "type": "nominal"}}},
      {"transform": [{"filter": "datum.k == 'D'"}], "mark": {"type": "circle", "color": "#000", "size": 5, "opacity": 1}, "encoding": {
        "x": {"field": "x", "type": "quantitative", "axis": {"orient": "top", "tickCount": 50, "tickSize": {"condition": {"test": "datum.value % 10 == 0", "value": -5}, "value": -2.5}, "labels": false, "title": null}},
        "y": {"field": "y", "type": "quantitative", "axis": {"orient": "right", "tickCount": 40, "tickSize": {"condition": {"test": "datum.value % 10 == 0", "value": -5}, "value": -2.5}, "labels": false, "title": null}}}}
    ]},
    {"data": {"name": "m4"}, "width": 120, "height": 127, "resolve": {"axis": {"x": "independent", "y": "independent"}}, "layer": [
      {"transform": [{"filter": "datum.k == 'N'"}], "mark": {"type": "rule", "color": "#999", "strokeWidth": 0.9}, "encoding": {
        "y": {"field": "m", "type": "quantitative", "scale": {"domain": [0, 11], "nice": false, "zero": false}, "axis": null}}},
      {"transform": [{"filter": "datum.k == 'L'"}], "mark": {"type": "line", "color": "#000", "strokeWidth": 2.6}, "encoding": {
        "x": {"field": "x", "type": "quantitative", "scale": {"domain": [80, 100], "nice": false, "zero": false}, "axis": {"orient": "bottom", "tickCount": 20, "tickSize": {"condition": {"test": "datum.value % 5 == 0", "value": -5}, "value": -2.5}, "labels": false, "title": null}},
        "y": {"field": "y", "type": "quantitative", "scale": {"domain": [0, 11], "nice": false, "zero": false}, "axis": {"orient": "left", "tickCount": 55, "tickSize": {"condition": {"test": "abs(datum.value-round(datum.value)) < 0.001", "value": -5}, "value": -2.5}, "labelExpr": "abs(datum.value-round(datum.value)) < 0.001 && datum.value > 0.5 && datum.value < 10.5 ? format(datum.value, '.0f') : ''", "title": "Machnumber"}}}},
      {"transform": [{"filter": "datum.k == 'T'"}], "mark": {"type": "line", "color": "#666", "strokeWidth": 1}, "encoding": {
        "x": {"field": "x", "type": "quantitative", "axis": {"orient": "top", "tickCount": 20, "tickSize": {"condition": {"test": "datum.value % 5 == 0", "value": -5}, "value": -2.5}, "labels": false, "title": null}},
        "y": {"field": "y", "type": "quantitative", "axis": {"orient": "right", "tickCount": 55, "tickSize": {"condition": {"test": "abs(datum.value-round(datum.value)) < 0.001", "value": -5}, "value": -2.5}, "labels": false, "title": null}}}},
      {"transform": [{"filter": "datum.k == 'T'"}], "mark": {"type": "circle", "color": "#222", "size": 7, "opacity": 1}, "encoding": {
        "x": {"field": "x", "type": "quantitative", "axis": null}, "y": {"field": "y", "type": "quantitative", "axis": null}}},
      {"transform": [{"filter": "datum.k == 'N'"}], "mark": {"type": "text", "align": "left", "baseline": "middle", "font": "Liberation Sans", "fontSize": 12, "color": "#111"}, "encoding": {
        "x": {"datum": 90, "type": "quantitative", "axis": null}, "y": {"datum": 9.96, "type": "quantitative", "axis": null}, "text": {"field": "t"}}}
    ]},

    {"data": {"name": "d5"}, "width": 120, "height": 127, "resolve": {"axis": {"x": "independent", "y": "independent"}}, "layer": [
      {"transform": [{"filter": "datum.k == 'L'"}], "mark": {"type": "line", "color": "#000", "strokeWidth": 2.6}, "encoding": {
        "x": {"field": "x", "type": "quantitative", "scale": {"domain": [50, 100], "nice": false, "zero": false}, "axis": {"orient": "bottom", "tickCount": 50, "tickSize": {"condition": {"test": "datum.value % 10 == 0", "value": -5}, "value": -2.5}, "labels": false, "title": null}},
        "y": {"field": "y", "type": "quantitative", "scale": {"domain": [0.1, 1.1], "nice": false, "zero": false}, "axis": {"orient": "left", "tickCount": 50, "tickSize": {"condition": {"test": "abs(datum.value*10-round(datum.value*10)) < 0.001", "value": -5}, "value": -2.5}, "labelExpr": "abs(datum.value*10-round(datum.value*10)) < 0.001 && datum.value > 0.15 && datum.value < 1.05 ? format(datum.value, '.1f') : ''", "title": "Density"}},
        "detail": {"field": "g", "type": "nominal"}}},
      {"transform": [{"filter": "datum.k == 'D'"}], "mark": {"type": "circle", "color": "#000", "size": 5, "opacity": 1}, "encoding": {
        "x": {"field": "x", "type": "quantitative", "axis": {"orient": "top", "tickCount": 50, "tickSize": {"condition": {"test": "datum.value % 10 == 0", "value": -5}, "value": -2.5}, "labels": false, "title": null}},
        "y": {"field": "y", "type": "quantitative", "axis": {"orient": "right", "tickCount": 50, "tickSize": {"condition": {"test": "abs(datum.value*10-round(datum.value*10)) < 0.001", "value": -5}, "value": -2.5}, "labels": false, "title": null}}}},
      {"transform": [{"filter": "datum.k == 'N'"}], "mark": {"type": "text", "align": "left", "baseline": "middle", "font": "Liberation Sans", "fontSize": 12, "color": "#111"}, "encoding": {
        "x": {"datum": 75, "type": "quantitative", "axis": null}, "y": {"datum": 0.78, "type": "quantitative", "axis": null}, "text": {"field": "t"}}}
    ]},
    {"data": {"name": "v5"}, "width": 120, "height": 127, "resolve": {"axis": {"x": "independent", "y": "independent"}}, "layer": [
      {"transform": [{"filter": "datum.k == 'L'"}], "mark": {"type": "line", "color": "#000", "strokeWidth": 2.6}, "encoding": {
        "x": {"field": "x", "type": "quantitative", "scale": {"domain": [50, 100], "nice": false, "zero": false}, "axis": {"orient": "bottom", "tickCount": 50, "tickSize": {"condition": {"test": "datum.value % 10 == 0", "value": -5}, "value": -2.5}, "labels": false, "title": null}},
        "y": {"field": "y", "type": "quantitative", "scale": {"domain": [0, 10], "nice": false, "zero": false}, "axis": {"orient": "left", "tickCount": 50, "tickSize": {"condition": {"test": "abs(datum.value-round(datum.value)) < 0.001", "value": -5}, "value": -2.5}, "labelExpr": "abs(datum.value-round(datum.value)) < 0.001 && datum.value > 0.5 && datum.value < 9.5 ? format(datum.value, '.0f') : ''", "title": "Velocity in X"}},
        "detail": {"field": "g", "type": "nominal"}}},
      {"transform": [{"filter": "datum.k == 'D'"}], "mark": {"type": "circle", "color": "#000", "size": 5, "opacity": 1}, "encoding": {
        "x": {"field": "x", "type": "quantitative", "axis": {"orient": "top", "tickCount": 50, "tickSize": {"condition": {"test": "datum.value % 10 == 0", "value": -5}, "value": -2.5}, "labels": false, "title": null}},
        "y": {"field": "y", "type": "quantitative", "axis": {"orient": "right", "tickCount": 50, "tickSize": {"condition": {"test": "abs(datum.value-round(datum.value)) < 0.001", "value": -5}, "value": -2.5}, "labels": false, "title": null}}}}
    ]},
    {"data": {"name": "e5"}, "width": 120, "height": 127, "resolve": {"axis": {"x": "independent", "y": "independent"}}, "layer": [
      {"transform": [{"filter": "datum.k == 'L'"}], "mark": {"type": "line", "color": "#000", "strokeWidth": 2.6}, "encoding": {
        "x": {"field": "x", "type": "quantitative", "scale": {"domain": [50, 100], "nice": false, "zero": false}, "axis": {"orient": "bottom", "tickCount": 50, "tickSize": {"condition": {"test": "datum.value % 10 == 0", "value": -5}, "value": -2.5}, "labels": false, "title": null}},
        "y": {"field": "y", "type": "quantitative", "scale": {"domain": [0, 80], "nice": false, "zero": false}, "axis": {"orient": "left", "tickCount": 40, "tickSize": {"condition": {"test": "datum.value % 10 == 0", "value": -5}, "value": -2.5}, "labelExpr": "datum.value % 10 == 0 && datum.value > 5 && datum.value < 75 ? format(datum.value, '.0f') : ''", "title": "Internal Energy"}},
        "detail": {"field": "g", "type": "nominal"}}},
      {"transform": [{"filter": "datum.k == 'D'"}], "mark": {"type": "circle", "color": "#000", "size": 5, "opacity": 1}, "encoding": {
        "x": {"field": "x", "type": "quantitative", "axis": {"orient": "top", "tickCount": 50, "tickSize": {"condition": {"test": "datum.value % 10 == 0", "value": -5}, "value": -2.5}, "labels": false, "title": null}},
        "y": {"field": "y", "type": "quantitative", "axis": {"orient": "right", "tickCount": 40, "tickSize": {"condition": {"test": "datum.value % 10 == 0", "value": -5}, "value": -2.5}, "labels": false, "title": null}}}}
    ]},
    {"data": {"name": "m5"}, "width": 120, "height": 127, "resolve": {"axis": {"x": "independent", "y": "independent"}}, "layer": [
      {"transform": [{"filter": "datum.k == 'N'"}], "mark": {"type": "rule", "color": "#999", "strokeWidth": 0.9}, "encoding": {
        "y": {"field": "m", "type": "quantitative", "scale": {"domain": [0, 35], "nice": false, "zero": false}, "axis": null}}},
      {"transform": [{"filter": "datum.k == 'L'"}], "mark": {"type": "line", "color": "#000", "strokeWidth": 2.6}, "encoding": {
        "x": {"field": "x", "type": "quantitative", "scale": {"domain": [80, 100], "nice": false, "zero": false}, "axis": {"orient": "bottom", "tickCount": 20, "tickSize": {"condition": {"test": "datum.value % 5 == 0", "value": -5}, "value": -2.5}, "labels": false, "title": null}},
        "y": {"field": "y", "type": "quantitative", "scale": {"domain": [0, 35], "nice": false, "zero": false}, "axis": {"orient": "left", "tickCount": 35, "tickSize": {"condition": {"test": "datum.value % 5 == 0", "value": -5}, "value": -2.5}, "labelExpr": "datum.value % 5 == 0 && datum.value > 2 && datum.value < 32 ? format(datum.value, '.0f') : ''", "title": "Machnumber"}}}},
      {"transform": [{"filter": "datum.k == 'T'"}], "mark": {"type": "line", "color": "#666", "strokeWidth": 1}, "encoding": {
        "x": {"field": "x", "type": "quantitative", "axis": {"orient": "top", "tickCount": 20, "tickSize": {"condition": {"test": "datum.value % 5 == 0", "value": -5}, "value": -2.5}, "labels": false, "title": null}},
        "y": {"field": "y", "type": "quantitative", "axis": {"orient": "right", "tickCount": 35, "tickSize": {"condition": {"test": "datum.value % 5 == 0", "value": -5}, "value": -2.5}, "labels": false, "title": null}}}},
      {"transform": [{"filter": "datum.k == 'T'"}], "mark": {"type": "circle", "color": "#222", "size": 7, "opacity": 1}, "encoding": {
        "x": {"field": "x", "type": "quantitative", "axis": null}, "y": {"field": "y", "type": "quantitative", "axis": null}}},
      {"transform": [{"filter": "datum.k == 'N'"}], "mark": {"type": "text", "align": "left", "baseline": "middle", "font": "Liberation Sans", "fontSize": 12, "color": "#111"}, "encoding": {
        "x": {"datum": 90, "type": "quantitative", "axis": null}, "y": {"datum": 31.7, "type": "quantitative", "axis": null}, "text": {"field": "t"}}}
    ]},

    {"data": {"name": "d6"}, "width": 120, "height": 127, "resolve": {"axis": {"x": "independent", "y": "independent"}}, "layer": [
      {"transform": [{"filter": "datum.k == 'L'"}], "mark": {"type": "line", "color": "#000", "strokeWidth": 2.6}, "encoding": {
        "x": {"field": "x", "type": "quantitative", "scale": {"domain": [50, 100], "nice": false, "zero": false}, "axis": {"orient": "bottom", "tickCount": 50, "tickSize": {"condition": {"test": "datum.value % 10 == 0", "value": -5}, "value": -2.5}, "labelExpr": "datum.value % 10 == 0 ? datum.label : ''", "labelPadding": 9, "title": "Position", "titlePadding": 0}},
        "y": {"field": "y", "type": "quantitative", "scale": {"domain": [0.1, 1.1], "nice": false, "zero": false}, "axis": {"orient": "left", "tickCount": 50, "tickSize": {"condition": {"test": "abs(datum.value*10-round(datum.value*10)) < 0.001", "value": -5}, "value": -2.5}, "labelExpr": "abs(datum.value*10-round(datum.value*10)) < 0.001 && datum.value > 0.15 && datum.value < 1.05 ? format(datum.value, '.1f') : ''", "title": "Density"}},
        "detail": {"field": "g", "type": "nominal"}}},
      {"transform": [{"filter": "datum.k == 'D'"}], "mark": {"type": "circle", "color": "#000", "size": 5, "opacity": 1}, "encoding": {
        "x": {"field": "x", "type": "quantitative", "axis": {"orient": "top", "tickCount": 50, "tickSize": {"condition": {"test": "datum.value % 10 == 0", "value": -5}, "value": -2.5}, "labels": false, "title": null}},
        "y": {"field": "y", "type": "quantitative", "axis": {"orient": "right", "tickCount": 50, "tickSize": {"condition": {"test": "abs(datum.value*10-round(datum.value*10)) < 0.001", "value": -5}, "value": -2.5}, "labels": false, "title": null}}}},
      {"transform": [{"filter": "datum.k == 'N'"}], "mark": {"type": "text", "align": "left", "baseline": "middle", "font": "Liberation Sans", "fontSize": 12, "color": "#111"}, "encoding": {
        "x": {"datum": 75, "type": "quantitative", "axis": null}, "y": {"datum": 0.78, "type": "quantitative", "axis": null}, "text": {"field": "t"}}}
    ]},
    {"data": {"name": "v6"}, "width": 120, "height": 127, "resolve": {"axis": {"x": "independent", "y": "independent"}}, "layer": [
      {"transform": [{"filter": "datum.k == 'L'"}], "mark": {"type": "line", "color": "#000", "strokeWidth": 2.6}, "encoding": {
        "x": {"field": "x", "type": "quantitative", "scale": {"domain": [50, 100], "nice": false, "zero": false}, "axis": {"orient": "bottom", "tickCount": 50, "tickSize": {"condition": {"test": "datum.value % 10 == 0", "value": -5}, "value": -2.5}, "labelExpr": "datum.value % 10 == 0 ? datum.label : ''", "labelPadding": 9, "title": "Position", "titlePadding": 0}},
        "y": {"field": "y", "type": "quantitative", "scale": {"domain": [0, 10], "nice": false, "zero": false}, "axis": {"orient": "left", "tickCount": 50, "tickSize": {"condition": {"test": "abs(datum.value-round(datum.value)) < 0.001", "value": -5}, "value": -2.5}, "labelExpr": "abs(datum.value-round(datum.value)) < 0.001 && datum.value > 0.5 && datum.value < 9.5 ? format(datum.value, '.0f') : ''", "title": "Velocity in X"}},
        "detail": {"field": "g", "type": "nominal"}}},
      {"transform": [{"filter": "datum.k == 'D'"}], "mark": {"type": "circle", "color": "#000", "size": 5, "opacity": 1}, "encoding": {
        "x": {"field": "x", "type": "quantitative", "axis": {"orient": "top", "tickCount": 50, "tickSize": {"condition": {"test": "datum.value % 10 == 0", "value": -5}, "value": -2.5}, "labels": false, "title": null}},
        "y": {"field": "y", "type": "quantitative", "axis": {"orient": "right", "tickCount": 50, "tickSize": {"condition": {"test": "abs(datum.value-round(datum.value)) < 0.001", "value": -5}, "value": -2.5}, "labels": false, "title": null}}}}
    ]},
    {"data": {"name": "e6"}, "width": 120, "height": 127, "resolve": {"axis": {"x": "independent", "y": "independent"}}, "layer": [
      {"transform": [{"filter": "datum.k == 'L'"}], "mark": {"type": "line", "color": "#000", "strokeWidth": 2.6}, "encoding": {
        "x": {"field": "x", "type": "quantitative", "scale": {"domain": [50, 100], "nice": false, "zero": false}, "axis": {"orient": "bottom", "tickCount": 50, "tickSize": {"condition": {"test": "datum.value % 10 == 0", "value": -5}, "value": -2.5}, "labelExpr": "datum.value % 10 == 0 ? datum.label : ''", "labelPadding": 9, "title": "Position", "titlePadding": 0}},
        "y": {"field": "y", "type": "quantitative", "scale": {"domain": [0, 80], "nice": false, "zero": false}, "axis": {"orient": "left", "tickCount": 40, "tickSize": {"condition": {"test": "datum.value % 10 == 0", "value": -5}, "value": -2.5}, "labelExpr": "datum.value % 10 == 0 && datum.value > 5 && datum.value < 75 ? format(datum.value, '.0f') : ''", "title": "Internal Energy"}},
        "detail": {"field": "g", "type": "nominal"}}},
      {"transform": [{"filter": "datum.k == 'D'"}], "mark": {"type": "circle", "color": "#000", "size": 5, "opacity": 1}, "encoding": {
        "x": {"field": "x", "type": "quantitative", "axis": {"orient": "top", "tickCount": 50, "tickSize": {"condition": {"test": "datum.value % 10 == 0", "value": -5}, "value": -2.5}, "labels": false, "title": null}},
        "y": {"field": "y", "type": "quantitative", "axis": {"orient": "right", "tickCount": 40, "tickSize": {"condition": {"test": "datum.value % 10 == 0", "value": -5}, "value": -2.5}, "labels": false, "title": null}}}}
    ]},
    {"data": {"name": "m6"}, "width": 120, "height": 127, "resolve": {"axis": {"x": "independent", "y": "independent"}}, "layer": [
      {"transform": [{"filter": "datum.k == 'N'"}], "mark": {"type": "rule", "color": "#999", "strokeWidth": 0.9}, "encoding": {
        "y": {"field": "m", "type": "quantitative", "scale": {"domain": [0, 70], "nice": false, "zero": false}, "axis": null}}},
      {"transform": [{"filter": "datum.k == 'L'"}], "mark": {"type": "line", "color": "#000", "strokeWidth": 2.6}, "encoding": {
        "x": {"field": "x", "type": "quantitative", "scale": {"domain": [80, 100], "nice": false, "zero": false}, "axis": {"orient": "bottom", "tickCount": 20, "tickSize": {"condition": {"test": "datum.value % 5 == 0", "value": -5}, "value": -2.5}, "labelExpr": "datum.value % 5 == 0 ? datum.label : ''", "labelFlush": false, "labelPadding": 9, "title": "Position", "titlePadding": 0}},
        "y": {"field": "y", "type": "quantitative", "scale": {"domain": [0, 70], "nice": false, "zero": false}, "axis": {"orient": "left", "tickCount": 35, "tickSize": {"condition": {"test": "datum.value % 10 == 0", "value": -5}, "value": -2.5}, "labelExpr": "datum.value % 10 == 0 && datum.value > 5 && datum.value < 65 ? format(datum.value, '.0f') : ''", "title": "Machnumber"}}}},
      {"transform": [{"filter": "datum.k == 'T'"}], "mark": {"type": "line", "color": "#666", "strokeWidth": 1}, "encoding": {
        "x": {"field": "x", "type": "quantitative", "axis": {"orient": "top", "tickCount": 20, "tickSize": {"condition": {"test": "datum.value % 5 == 0", "value": -5}, "value": -2.5}, "labels": false, "title": null}},
        "y": {"field": "y", "type": "quantitative", "axis": {"orient": "right", "tickCount": 35, "tickSize": {"condition": {"test": "datum.value % 10 == 0", "value": -5}, "value": -2.5}, "labels": false, "title": null}}}},
      {"transform": [{"filter": "datum.k == 'T'"}], "mark": {"type": "circle", "color": "#222", "size": 7, "opacity": 1}, "encoding": {
        "x": {"field": "x", "type": "quantitative", "axis": null}, "y": {"field": "y", "type": "quantitative", "axis": null}}},
      {"transform": [{"filter": "datum.k == 'N'"}], "mark": {"type": "text", "align": "left", "baseline": "middle", "font": "Liberation Sans", "fontSize": 12, "color": "#111"}, "encoding": {
        "x": {"datum": 90, "type": "quantitative", "axis": null}, "y": {"datum": 63.4, "type": "quantitative", "axis": null}, "text": {"field": "t"}}}
    ]}
  ]
}
